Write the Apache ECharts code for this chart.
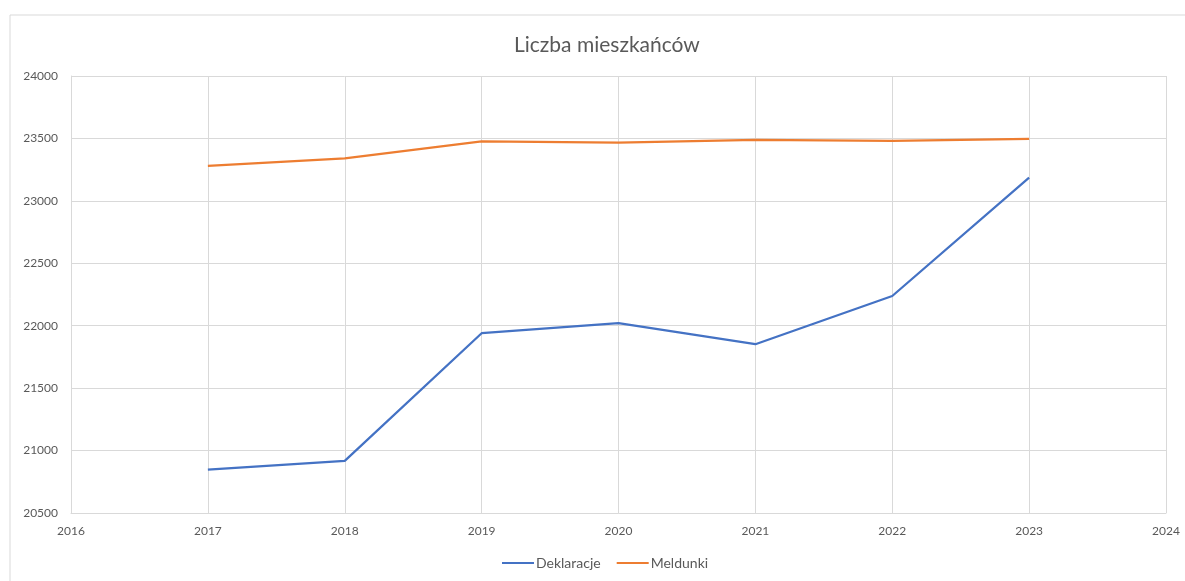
<!DOCTYPE html>
<html>
<head>
<meta charset="utf-8">
<script src="https://cdn.jsdelivr.net/npm/echarts@6/dist/echarts.min.js"></script>
<style>
  html, body { margin: 0; padding: 0; background: #fff; }
  #chart { width: 1185px; height: 581px; }
</style>
</head>
<body>
<div id="chart"></div>
<script>
// lata i wartości
var years = [2017, 2018, 2019, 2020, 2021, 2022, 2023];
var deklaracje = [20848, 20917, 21940, 22020, 21852, 22238, 23186];
var meldunki = [23280, 23341, 23477, 23466, 23488, 23480, 23496];
var yTicks = [20500, 21000, 21500, 22000, 22500, 23000, 23500, 24000];

function pairs(vals) {
    return years.map(function (y, i) { return [y, vals[i]]; });
}

var mychart = echarts.init(document.getElementById('chart'));
var txt = '#595959';
var gridCol = '#d9d9d9';

var option = {
    animation: false,
    color: ['#4472C4', '#ED7D31'],
    textStyle: { fontFamily: 'Lato, "Open Sans", sans-serif' },
    graphic: [{
        type: 'rect',
        shape: { x: 10, y: 15, width: 1200, height: 600 },
        style: { fill: 'none', stroke: gridCol, lineWidth: 1 },
        silent: true
    }],
    title: {
        text: 'Liczba mieszkańców',
        left: 509,
        top: 30,
        textStyle: { color: txt, fontSize: 21, fontWeight: 'normal', fontFamily: 'Lato, "Open Sans", sans-serif' }
    },
    legend: {
        bottom: 6,
        left: 497,
        itemWidth: 32,
        itemHeight: 2,
        itemGap: 16,
        icon: 'rect',
        textStyle: { color: txt, fontSize: 14, padding: [0, 0, 0, -3] },
        data: ['Deklaracje', 'Meldunki']
    },
    grid: {
        left: 71,
        right: 19,
        top: 76,
        bottom: 68
    },
    xAxis: {
        type: 'value',
        min: 2016,
        max: 2024,
        interval: 1,
        axisLine: { show: true, lineStyle: { color: gridCol } },
        axisTick: { show: false },
        axisLabel: { color: txt, fontSize: 12, margin: 12, formatter: function (v) { return String(v); } },
        splitLine: { show: true, lineStyle: { color: gridCol } }
    },
    yAxis: {
        type: 'value',
        min: yTicks[0],
        max: yTicks[yTicks.length - 1],
        interval: 500,
        axisLine: { show: true, lineStyle: { color: gridCol } },
        axisTick: { show: false },
        axisLabel: { color: txt, fontSize: 12, margin: 13, formatter: function (v) { return String(v); } },
        splitLine: { show: true, lineStyle: { color: gridCol } }
    },
    series: [{
        name: 'Deklaracje',
        type: 'line',
        data: pairs(deklaracje),
        symbol: 'none',
        lineStyle: { width: 2.25 }
    }, {
        name: 'Meldunki',
        type: 'line',
        data: pairs(meldunki),
        symbol: 'none',
        lineStyle: { width: 2.25 }
    }]
};

mychart.setOption(option);
</script>
</body>
</html>
